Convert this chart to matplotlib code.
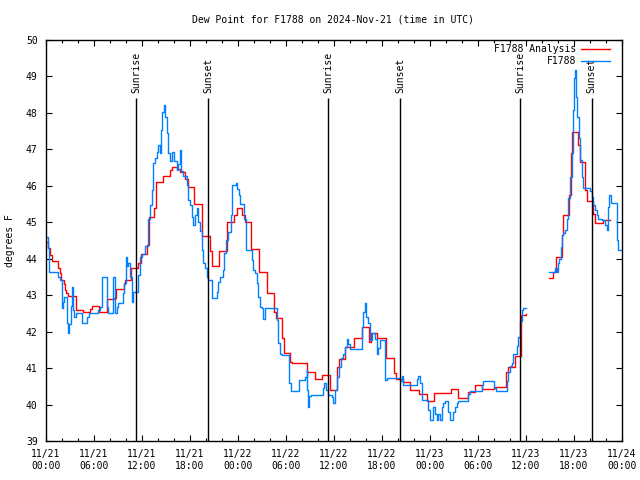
import datetime as dt
import numpy as np
import matplotlib
matplotlib.use('Agg')
import matplotlib.pyplot as plt
import matplotlib.dates as mdates

plt.rcParams['font.family'] = 'DejaVu Sans Mono'
plt.rcParams['font.size'] = 7

# ============================================================
# DATA  (hours since 2024-11-21 00:00 UTC, dew point in deg F)
# ============================================================

start = dt.datetime(2024, 11, 21)
nan = np.nan

anl_hours = [0.0, 0.25, 0.44, 0.75, 1.54, 1.69, 1.84, 2.25, 2.38, 2.56, 2.79, 3.71, 4.66, 5.5, 5.71,
             6.63, 7.63, 8.5, 8.75, 9.75, 9.88, 10.63, 11.5, 11.84, 12.59, 12.88, 13.54, 13.71,
             14.66, 15.5, 15.75, 16.34, 16.75, 17.38, 17.79, 18.5, 19.54, 20.5, 20.69, 21.6,
             22.66, 23.54, 23.91, 24.54, 24.88, 25.59, 26.66, 27.66, 28.5, 28.75, 29.54, 29.75,
             30.5, 30.79, 32.59, 33.63, 34.46, 35.5, 36.41, 36.63, 37.38, 38.5, 39.54, 40.41,
             40.63, 41.41, 42.5, 43.5, 43.75, 44.6, 45.5, 46.6, 47.6, 48.5, 50.6, 51.5, 52.7,
             53.6, 54.56, 56.0, 57.56, 57.75, 58.6, 59.38, 60.0, 60.0,
             62.88, 63.34, 63.71, 64.46, 64.66, 65.41, 65.59, 65.71, 66.54, 66.75, 67.38, 67.66,
             68.34, 68.63, 69.59, 70.5]
anl_vals = [44.45, 44.3, 44.1, 43.94, 43.75, 43.6, 43.42, 43.3, 43.15, 43.05, 42.98, 42.59, 42.54,
            42.62, 42.7, 42.55, 42.89, 42.93, 43.16, 43.3, 43.43, 43.74, 43.87, 44.12, 44.38,
            45.14, 45.38, 46.11, 46.27, 46.43, 46.52, 46.45, 46.37, 46.2, 45.98, 45.5, 44.62,
            44.2, 43.8, 44.2, 45.0, 45.2, 45.38, 45.2, 45.0, 44.26, 43.64, 43.07, 42.55, 42.38,
            41.82, 41.42, 41.18, 41.14, 40.9, 40.69, 40.81, 40.4, 41.02, 41.24, 41.57, 41.82,
            42.12, 41.72, 41.95, 41.82, 41.27, 40.86, 40.69, 40.62, 40.4, 40.28, 40.1, 40.31,
            40.44, 40.17, 40.35, 40.53, 40.44, 40.47, 40.9, 41.02, 41.33, 42.46, 42.48, nan,
            43.46, 43.64, 44.04, 44.65, 45.2, 45.75, 46.89, 47.47, 47.12, 46.66, 45.88, 45.59,
            45.24, 44.97, 45.06, 45.06]

obs_hours = [0.0, 0.29, 0.41, 1.5, 1.75, 1.96, 2.03, 2.09, 2.25, 2.66, 2.79, 2.91, 3.09, 3.21, 3.34,
             3.5, 3.75, 4.46, 5.09, 5.38, 6.54, 6.75, 6.96, 7.59, 7.79, 8.41, 8.63, 8.84, 9.04,
             9.66, 9.79, 10.0, 10.16, 10.25, 10.5, 10.69, 10.81, 10.91, 11.54, 11.75, 11.96,
             12.38, 12.79, 13.0, 13.21, 13.41, 13.63, 13.84, 14.04, 14.25, 14.38, 14.54, 14.75,
             14.88, 15.09, 15.29, 15.5, 15.79, 16.04, 16.34, 16.54, 16.75, 16.88, 17.16, 17.59,
             17.79, 18.0, 18.21, 18.41, 18.63, 18.84, 19.04, 19.25, 19.46, 19.66, 19.88, 20.16,
             20.29, 20.71, 21.34, 21.54, 21.75, 22.09, 22.25, 22.5, 22.79, 23.09, 23.29, 23.71,
             23.91, 24.13, 24.25, 24.75, 24.96, 25.71, 25.91, 26.13, 26.34, 26.54, 26.75, 26.96,
             27.16, 27.38, 28.84, 29.04, 29.25, 29.46, 30.41, 30.59, 31.66, 32.38, 32.59, 32.66,
             32.75, 32.88, 33.09, 34.59, 34.75, 34.96, 35.21, 35.71, 35.91, 36.13, 36.41, 36.66,
             36.88, 37.16, 37.38, 37.59, 37.79, 38.0, 39.46, 39.66, 39.88, 40.0, 40.21, 40.5,
             40.71, 41.13, 41.41, 41.54, 41.75, 42.38, 42.59, 44.25, 44.46, 44.66, 46.34, 46.54,
             46.75, 46.96, 47.79, 48.0, 48.41, 48.63, 48.84, 49.04, 49.25, 49.46, 49.66, 49.88,
             50.29, 50.5, 50.91, 51.13, 51.34, 51.54, 52.79, 53.0, 54.46, 54.66, 56.0, 56.25,
             57.59, 57.79, 58.0, 58.21, 58.41, 58.84, 59.04, 59.25, 59.46, 59.66, 60.0, 60.0,
             62.88, 63.63, 63.84, 64.04, 64.16, 64.38, 64.54, 64.66, 64.88, 65.09, 65.29, 65.5,
             65.71, 65.84, 66.0, 66.13, 66.25, 66.41, 66.63, 66.75, 66.96, 67.16, 68.0, 68.21,
             68.41, 68.63, 68.84, 69.04, 69.46, 69.88, 70.09, 70.29, 70.41, 70.59, 71.34, 71.54,
             71.96]
obs_vals = [44.6, 44.3, 43.64, 43.5, 43.42, 43.0, 42.65, 42.8, 42.96, 42.23, 41.95, 42.2, 42.7,
            43.23, 42.6, 42.41, 42.52, 42.24, 42.4, 42.52, 42.6, 42.68, 43.49, 42.68, 42.5, 43.49,
            42.5, 42.68, 42.79, 43.05, 43.33, 44.05, 43.8, 43.87, 43.5, 43.0, 42.8, 43.1, 43.55,
            44.05, 44.12, 44.35, 45.1, 45.47, 45.88, 46.62, 46.75, 46.94, 47.12, 46.9, 47.53,
            48.03, 48.22, 47.9, 47.44, 46.89, 46.69, 46.94, 46.69, 46.43, 46.6, 46.98, 46.4,
            46.27, 46.02, 45.6, 45.47, 45.15, 44.92, 45.2, 45.38, 45.0, 44.75, 44.24, 43.87,
            43.75, 43.5, 43.42, 42.91, 43.1, 43.37, 43.49, 43.7, 44.15, 44.51, 44.74, 45.2,
            46.02, 46.09, 45.9, 45.75, 45.49, 45.1, 44.24, 43.96, 43.69, 43.6, 43.33, 42.96,
            42.68, 42.64, 42.36, 42.64, 42.32, 41.68, 41.4, 41.36, 40.6, 40.37, 40.67, 40.75,
            40.95, 40.4, 39.94, 40.23, 40.26, 40.45, 40.58, 40.4, 40.26, 40.2, 40.03, 40.4,
            40.75, 41.02, 41.27, 41.4, 41.59, 41.79, 41.65, 41.51, 42.13, 42.55, 42.78, 42.4,
            42.23, 41.77, 41.95, 41.8, 41.4, 41.55, 41.77, 40.67, 40.72, 40.65, 40.78, 40.53,
            40.7, 40.78, 40.6, 40.12, 39.85, 39.57, 39.94, 39.75, 39.57, 39.75, 39.57, 39.94,
            40.05, 40.1, 39.8, 39.57, 39.8, 39.94, 40.05, 40.1, 40.3, 40.38, 40.53, 40.64,
            40.45, 40.38, 40.65, 40.9, 41.05, 41.15, 41.39, 41.6, 41.86, 42.3, 42.59, 42.64,
            42.64, nan,
            43.63, 43.75, 43.63, 43.87, 44.0, 44.33, 44.65, 44.7, 44.79, 45.1, 45.66, 46.25,
            46.9, 48.08, 48.95, 49.18, 48.44, 47.9, 47.3, 46.71, 46.25, 45.93, 45.85, 45.7,
            45.47, 45.35, 45.2, 45.1, 45.05, 44.92, 44.8, 45.43, 45.75, 45.52, 44.51, 44.24,
            44.24]

sun_hours = [11.3, 20.3, 35.3, 44.3, 59.3, 68.2]
sun_labels = ['Sunrise', 'Sunset', 'Sunrise', 'Sunset', 'Sunrise', 'Sunset']


def to_times(hours):
    return [start + dt.timedelta(hours=h) for h in hours]


# ============================================================
# CHART
# ============================================================

fig = plt.figure(figsize=(6.4, 4.8), dpi=100)
ax = fig.add_axes([46 / 640, 1 - 441 / 480, 576 / 640, 401 / 480])

ax.plot(to_times(anl_hours), anl_vals, drawstyle='steps-post', color='#ff0000', lw=1.0,
        label='F1788 Analysis')
ax.plot(to_times(obs_hours), obs_vals, drawstyle='steps-post', color='#0080ff', lw=1.0,
        label='F1788')

sun_times = to_times(sun_hours)
ax.vlines(sun_times, 39, 48.42, color='black', lw=1.0)
for t, lab in zip(sun_times, sun_labels):
    ax.text(t, 48.55, lab, rotation=90, ha='center', va='bottom')

ax.set_xlim(start, start + dt.timedelta(hours=72))
ax.set_ylim(39, 50)
ax.set_yticks(range(39, 51))
ax.xaxis.set_major_locator(mdates.HourLocator(byhour=[0, 6, 12, 18]))
ax.xaxis.set_minor_locator(mdates.HourLocator(byhour=range(0, 24, 2)))
ax.xaxis.set_major_formatter(mdates.DateFormatter('%m/%d\n%H:%M'))
ax.tick_params(which='both', direction='in', top=True, right=True, width=0.8)
ax.tick_params(which='major', length=4.5, pad=6)
ax.tick_params(which='minor', length=2.5)
for s in ax.spines.values():
    s.set_linewidth(1.0)

ax.set_ylabel('degrees F', labelpad=8)
fig.text(333 / 640, 1 - 19 / 480, 'Dew Point for F1788 on 2024-Nov-21 (time in UTC)',
         ha='center', va='center')

ax.legend(loc='upper right', bbox_to_anchor=(0.979, 0.99), frameon=False, markerfirst=False,
          borderaxespad=0, borderpad=0, handlelength=3.0, handletextpad=0.5, labelspacing=0.25)

fig.savefig('out.png', dpi=100)
